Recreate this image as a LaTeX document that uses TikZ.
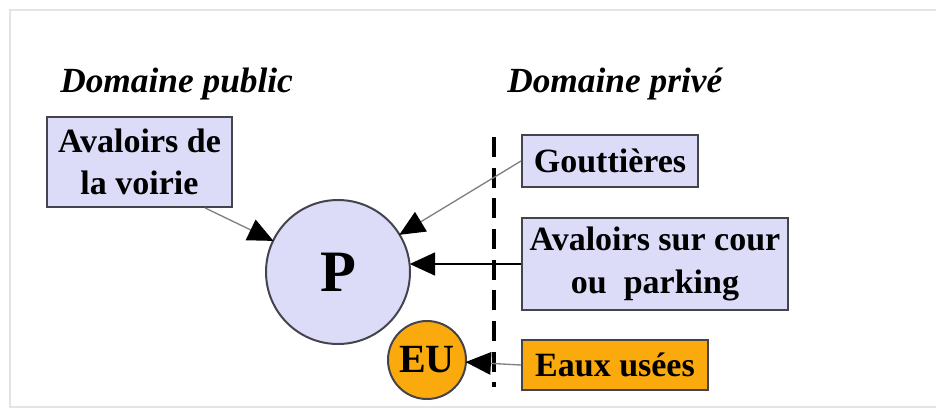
\documentclass[tikz,border=0pt]{standalone}
\usepackage{fontspec}
\setmainfont{Liberation Serif}
\usetikzlibrary{arrows.meta}

\definecolor{lavande}{RGB}{220,220,248}
\definecolor{orangeeu}{RGB}{250,170,12}
\definecolor{bord}{RGB}{68,68,78}
\definecolor{cadre}{RGB}{228,228,228}

\begin{document}
\begin{tikzpicture}[x=0.75pt,y=-0.75pt,
  boite/.style={draw=bord,line width=1.5pt,fill=lavande,align=center,inner sep=0pt,
    font=\fontsize{25.5}{32}\selectfont\bfseries},
  titre/.style={anchor=base west,inner sep=0pt,font=\fontsize{26.5}{30}\selectfont\bfseries\itshape},
  fleche/.style={-{Triangle[length=19pt,width=17pt,black]},draw=gray,line width=1pt,shorten >=-1pt}]
\useasboundingbox (0,0) rectangle (936,412);
% cadre
\draw[cadre,line width=1.5pt] (936,10) -- (10,10) -- (10,407) -- (936,407);

% titres
\node[titre] (public) at (60,92) {Domaine public};
\node[titre] (prive) at (507,92) {Domaine privé};

% limite
\coordinate (haut) at (494,137);
\coordinate (bas) at (494,387);
\draw[line width=3pt,dash pattern=on 15pt off 8pt] (haut) -- (bas);

% noeuds
\node[boite,minimum width=139pt,minimum height=67.5pt] (voirie) at (139.5,162) {Avaloirs de\\la voirie};
\node[circle,draw=bord,line width=1.5pt,fill=lavande,minimum size=108pt,inner sep=0pt,
  font=\fontsize{44}{44}\selectfont\bfseries] (P) at (338,272) {P};
\node[circle,draw=bord,line width=1.5pt,fill=orangeeu,minimum size=58.5pt,inner sep=0pt,
  font=\fontsize{30}{30}\selectfont\bfseries] (EU) at (427,360) {EU};
\node[boite,minimum width=132pt,minimum height=39pt] (gout) at (610,161) {Gouttières};
\node[boite,minimum width=199.5pt,minimum height=69pt] (cour) at (655,264) {Avaloirs sur cour\\ou\ \ parking};
\node[boite,fill=orangeeu,minimum width=139.5pt,minimum height=37.5pt] (eaux) at (615,365) {Eaux usées};

% fleches
\draw[fleche] (voirie.-35) -- (P);
\draw[fleche] (gout.west) -- (P);
\draw[fleche,draw=black,line width=2pt] (cour.west) -- (P.east |- cour.west);
\draw[fleche] (eaux.west) -- (EU);
\end{tikzpicture}
\end{document}
